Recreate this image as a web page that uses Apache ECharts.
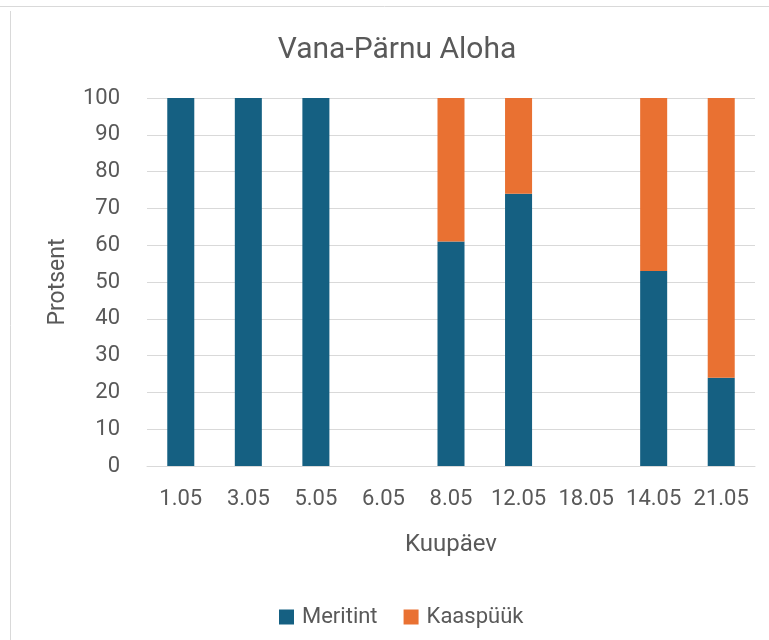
<!DOCTYPE html>
<html>
<head>
<meta charset="utf-8">
<script src="https://cdn.jsdelivr.net/npm/echarts@6/dist/echarts.min.js"></script>
<style>
  html, body { margin: 0; padding: 0; background: #fff; }
  #main { width: 769px; height: 640px; }
</style>
</head>
<body>
<div id="main"></div>
<script>
// andmed
var kuupaevad = ['1.05', '3.05', '5.05', '6.05', '8.05', '12.05', '18.05', '14.05', '21.05'];
var meritint = [100, 100, 100, 0, 61, 74, 0, 53, 24];
var kaaspuuk = [0, 0, 0, 0, 39, 26, 0, 47, 76];
var yTicks = [0, 10, 20, 30, 40, 50, 60, 70, 80, 90, 100];

var font = 'Roboto, sans-serif';
var textColor = '#595959';

var myChart = echarts.init(document.getElementById('main'));
myChart.setOption({
  animation: false,
  textStyle: { fontFamily: font },
  title: {
    text: 'Vana-Pärnu Aloha',
    left: 392,
    top: 30,
    textAlign: 'center',
    textStyle: { fontFamily: font, fontSize: 30, fontWeight: 'normal', color: textColor }
  },
  graphic: [
    { type: 'line', shape: { x1: 0, y1: 6.5, x2: 769, y2: 6.5 }, style: { stroke: '#d9d9d9', lineWidth: 1 } },
    { type: 'line', shape: { x1: 10.5, y1: 11, x2: 10.5, y2: 640 }, style: { stroke: '#d9d9d9', lineWidth: 1 } }
  ],
  legend: {
    data: ['Meritint', 'Kaaspüük'],
    left: 274,
    top: 601,
    itemWidth: 15,
    itemHeight: 15,
    itemGap: 26,
    icon: 'rect',
    textStyle: { fontFamily: font, fontSize: 22, color: textColor, padding: [0, 0, 0, 3] }
  },
  grid: { left: 147, right: 14, top: 98, bottom: 174 },
  xAxis: {
    type: 'category',
    data: kuupaevad,
    name: 'Kuupäev',
    nameLocation: 'middle',
    nameGap: 67,
    nameTextStyle: { fontFamily: font, fontSize: 24, color: textColor },
    axisLine: { lineStyle: { color: '#d9d9d9', width: 1 } },
    axisTick: { show: false },
    axisLabel: { interval: 0, margin: 22, fontFamily: font, fontSize: 22, color: textColor }
  },
  yAxis: {
    type: 'value',
    min: yTicks[0],
    max: yTicks[yTicks.length - 1],
    interval: 10,
    name: 'Protsent',
    nameLocation: 'middle',
    nameGap: 77,
    nameTextStyle: { fontFamily: font, fontSize: 23, color: textColor },
    axisLine: { show: false },
    axisTick: { show: false },
    axisLabel: { margin: 27, fontFamily: font, fontSize: 22, color: textColor },
    splitLine: { lineStyle: { color: '#d9d9d9', width: 1 } }
  },
  series: [
    {
      name: 'Meritint',
      type: 'bar',
      stack: 'kokku',
      data: meritint,
      barWidth: '40%',
      itemStyle: { color: '#156082' }
    },
    {
      name: 'Kaaspüük',
      type: 'bar',
      stack: 'kokku',
      data: kaaspuuk,
      barWidth: '40%',
      itemStyle: { color: '#E97132' }
    }
  ]
});
</script>
</body>
</html>
